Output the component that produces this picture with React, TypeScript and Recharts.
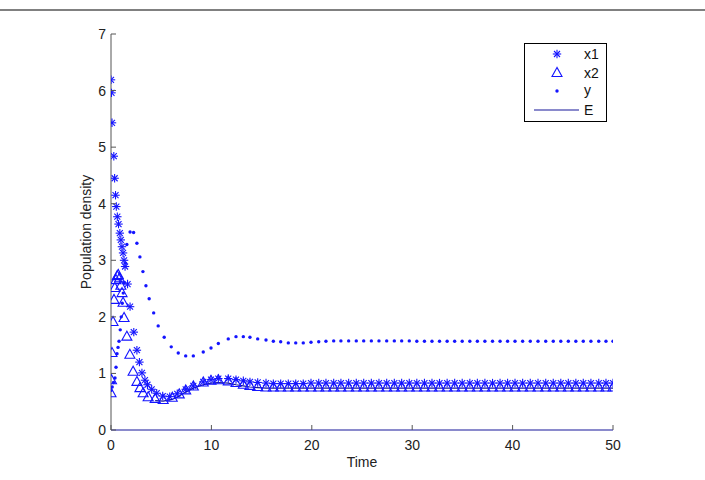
import React from 'react';
import { ComposedChart, Scatter, Line, XAxis, YAxis, Legend } from 'recharts';

const xTicks = [0, 10, 20, 30, 40, 50];
const yTicks = [0, 1, 2, 3, 4, 5, 6, 7];

// shared solver output times after the transient
const lateTime = [7.44, 8.2, 9.19, 9.96, 10.69, 11.68, 12.45, 13.18, 13.84, 14.61,
  15.44, 16.17, 16.9, 17.66, 18.4, 19.15, 19.92, 20.69, 21.41, 22.18,
  22.9, 23.67, 24.43, 25.17, 25.93, 26.69, 27.46, 28.22, 28.95, 29.71,
  30.46, 31.22, 31.97, 32.72, 33.48, 34.23, 34.98, 35.74, 36.49, 37.24,
  38.0, 38.75, 39.5, 40.24, 41.0, 41.76, 42.53, 43.3, 44.05, 44.8,
  45.55, 46.3, 47.04, 47.8, 48.58, 49.3, 50.0];

const x1EarlyTime = [0, 0.05, 0.1, 0.28, 0.36, 0.45, 0.53, 0.63, 0.75, 0.88, 0.98, 1.09, 1.2, 1.3, 1.4, 1.65, 1.9, 2.27, 2.58, 2.83, 3.08, 3.38, 3.63, 4.05, 4.55, 5.15, 5.85, 6.6];
const x1EarlyValues = [6.19, 5.96, 5.43, 4.84, 4.45, 4.15, 3.95, 3.77, 3.64, 3.48, 3.36, 3.24, 3.13, 3.0, 2.89, 2.58, 2.18, 1.73, 1.41, 1.2, 1.01, 0.88, 0.8, 0.72, 0.65, 0.6, 0.59, 0.64];
const x1LateValues = [0.72, 0.78, 0.85, 0.89, 0.91, 0.91, 0.89, 0.87, 0.85, 0.84,
  0.83, 0.82, 0.82, 0.82, 0.82, 0.82, 0.83, 0.83, 0.83, 0.83,
  0.83, 0.83, 0.83, 0.83, 0.83, 0.83, 0.83, 0.83, 0.83, 0.83,
  0.83, 0.83, 0.83, 0.83, 0.83, 0.83, 0.83, 0.83, 0.83, 0.83,
  0.83, 0.83, 0.83, 0.83, 0.83, 0.83, 0.83, 0.83, 0.83, 0.83,
  0.83, 0.83, 0.83, 0.83, 0.83, 0.83, 0.83];

const x2EarlyTime = [0, 0.05, 0.1, 0.2, 0.3, 0.38, 0.5, 0.62, 0.72, 0.85, 0.98, 1.1, 1.2, 1.3, 1.58, 1.88, 2.2, 2.58, 2.88, 3.2, 3.7, 4.4, 5.2, 6.1, 6.8];
const x2EarlyValues = [0.65, 0.88, 1.36, 1.91, 2.3, 2.51, 2.65, 2.72, 2.74, 2.68, 2.55, 2.42, 2.25, 1.98, 1.65, 1.33, 1.03, 0.85, 0.74, 0.65, 0.58, 0.55, 0.53, 0.57, 0.63];
const x2LateValues = [0.70, 0.77, 0.84, 0.87, 0.88, 0.86, 0.83, 0.80, 0.78, 0.76,
  0.75, 0.75, 0.75, 0.75, 0.75, 0.75, 0.75, 0.75, 0.75, 0.75,
  0.75, 0.75, 0.75, 0.75, 0.75, 0.75, 0.75, 0.75, 0.75, 0.75,
  0.75, 0.75, 0.75, 0.75, 0.75, 0.75, 0.75, 0.75, 0.75, 0.75,
  0.75, 0.75, 0.75, 0.75, 0.75, 0.75, 0.75, 0.75, 0.75, 0.75,
  0.75, 0.75, 0.75, 0.75, 0.75, 0.75, 0.75];

const yEarlyTime = [0, 0.12, 0.25, 0.4, 0.5, 0.6, 0.7, 0.8, 0.92, 1.02, 1.12, 1.22, 1.32, 1.44, 1.58, 1.9, 2.25, 2.58, 2.88, 3.18, 3.48, 3.8, 4.25, 4.7, 5.3, 6.0, 6.7];
const yEarlyValues = [0.7, 0.76, 0.84, 0.92, 1.11, 1.35, 1.46, 1.57, 1.77, 2.0, 2.24, 2.42, 2.6, 2.95, 3.28, 3.5, 3.49, 3.3, 3.06, 2.8, 2.55, 2.32, 2.07, 1.84, 1.64, 1.47, 1.36];
const yLateValues = [1.31, 1.31, 1.38, 1.45, 1.53, 1.61, 1.65, 1.65, 1.64, 1.61,
  1.59, 1.57, 1.56, 1.54, 1.54, 1.54, 1.55, 1.56, 1.57, 1.575,
  1.575, 1.575, 1.575, 1.575, 1.575, 1.575, 1.575, 1.575, 1.575, 1.575,
  1.57, 1.57, 1.57, 1.57, 1.57, 1.57, 1.57, 1.57, 1.57, 1.57,
  1.57, 1.57, 1.57, 1.57, 1.57, 1.57, 1.57, 1.57, 1.57, 1.57,
  1.57, 1.57, 1.57, 1.57, 1.57, 1.57, 1.57];

const eEarlyTime = [4.4, 5.2, 6.1, 6.8];
const eEarlyValues = [0.52, 0.51, 0.54, 0.6];
const eLateValues = [0.67, 0.74, 0.80, 0.83, 0.84, 0.83, 0.80, 0.78, 0.76, 0.75,
  0.74, 0.74, 0.74, 0.74, 0.74, 0.74, 0.74, 0.74, 0.74, 0.74,
  0.74, 0.74, 0.74, 0.74, 0.74, 0.74, 0.74, 0.74, 0.74, 0.74,
  0.74, 0.74, 0.74, 0.74, 0.74, 0.74, 0.74, 0.74, 0.74, 0.74,
  0.74, 0.74, 0.74, 0.74, 0.74, 0.74, 0.74, 0.74, 0.74, 0.74,
  0.74, 0.74, 0.74, 0.74, 0.74, 0.74, 0.74];

const seriesNames = ['x1', 'x2', 'y', 'E'];

const pair = (times: number[], values: number[]) => times.map((t, i) => ({ t, v: values[i] }));
const x1Data = [...pair(x1EarlyTime, x1EarlyValues), ...pair(lateTime, x1LateValues)];
const x2Data = [...pair(x2EarlyTime, x2EarlyValues), ...pair(lateTime, x2LateValues)];
const yData = [...pair(yEarlyTime, yEarlyValues), ...pair(lateTime, yLateValues)];
const eData = [...pair(eEarlyTime, eEarlyValues), ...pair(lateTime, eLateValues)];

const BLUE = '#1414ff';
const NAVY = '#16169a';
const FONT = '"Liberation Sans", Arial, Helvetica, sans-serif';

const Asterisk = (p: any) => {
  const { cx, cy } = p;
  if (cx == null || cy == null) return null;
  const r = 4.2, d = 3;
  return (
    <g stroke={BLUE} strokeWidth={1.1}>
      <line x1={cx - r} y1={cy} x2={cx + r} y2={cy} />
      <line x1={cx} y1={cy - r} x2={cx} y2={cy + r} />
      <line x1={cx - d} y1={cy - d} x2={cx + d} y2={cy + d} />
      <line x1={cx - d} y1={cy + d} x2={cx + d} y2={cy - d} />
    </g>
  );
};

const Triangle = (p: any) => {
  const { cx, cy } = p;
  if (cx == null || cy == null) return null;
  return (
    <polygon
      points={`${cx},${cy - 5.5} ${cx - 5},${cy + 3.5} ${cx + 5},${cy + 3.5}`}
      fill="none" stroke={BLUE} strokeWidth={1.1}
    />
  );
};

const Dot = (p: any) => {
  const { cx, cy } = p;
  if (cx == null || cy == null) return null;
  return <circle cx={cx} cy={cy} r={1.7} fill={BLUE} />;
};

const YTick = (p: any) => {
  const { x, y, payload } = p;
  return (
    <g>
      <line x1={x + 5} x2={x + 10} y1={y} y2={y} stroke="#555" strokeWidth={1} />
      <text x={x} y={y + 5} textAnchor="end" fontSize={14} fontFamily={FONT} fill="#222">{payload.value}</text>
    </g>
  );
};

const XTick = (p: any) => {
  const { x, y, payload } = p;
  return (
    <g>
      <line x1={x} x2={x} y1={y} y2={y - 5} stroke="#555" strokeWidth={1} />
      <text x={x} y={y + 20} textAnchor="middle" fontSize={14} fontFamily={FONT} fill="#222">{payload.value}</text>
    </g>
  );
};

const renderLegend = () => (
  <svg width={84} height={80} style={{ display: 'block' }}>
    <rect x={0.5} y={0.5} width={82} height={78} fill="#fff" stroke="#000" strokeWidth={1} />
    <Asterisk cx={33} cy={11} />
    <text x={60} y={16} fontSize={14} fontFamily={FONT} fill="#111">{seriesNames[0]}</text>
    <Triangle cx={33} cy={30} />
    <text x={60} y={35} fontSize={14} fontFamily={FONT} fill="#111">{seriesNames[1]}</text>
    <Dot cx={33} cy={48} />
    <text x={60} y={52} fontSize={14} fontFamily={FONT} fill="#111">{seriesNames[2]}</text>
    <line x1={10} x2={55} y1={67} y2={67} stroke={NAVY} strokeWidth={1.2} />
    <text x={60} y={72} fontSize={14} fontFamily={FONT} fill="#111">{seriesNames[3]}</text>
  </svg>
);

export default function App() {
  return (
    <div style={{ position: 'absolute', left: 0, top: 0, width: 705, height: 480, background: '#fff' }}>
      <div style={{ position: 'absolute', left: 0, top: 9, width: 705, height: 2, background: '#808080' }} />
      <ComposedChart
        width={705}
        height={480}
        margin={{ top: 34, right: 92, bottom: 0, left: 0 }}
        style={{ fontFamily: FONT }}
      >
        <XAxis
          type="number"
          dataKey="t"
          domain={[0, 50]}
          ticks={xTicks}
          height={50}
          tickSize={0}
          tickMargin={0}
          tickLine={false}
          axisLine={{ stroke: NAVY, strokeWidth: 1.2 }}
          tick={<XTick />}
          interval={0}
          allowDataOverflow
          label={{
            content: () => (
              <text x={362} y={467} textAnchor="middle" fontSize={14} fontFamily={FONT} fill="#222">Time</text>
            ),
          }}
        />
        <YAxis
          type="number"
          dataKey="v"
          domain={[0, 7]}
          ticks={yTicks}
          width={111}
          tickSize={0}
          tickMargin={5}
          tickLine={false}
          axisLine={{ stroke: '#555', strokeWidth: 1 }}
          tick={<YTick />}
          interval={0}
          allowDataOverflow
          label={{
            content: () => (
              <text x={91} y={232} transform="rotate(-90 91 232)" textAnchor="middle" fontSize={14} fontFamily={FONT} fill="#222">Population density</text>
            ),
          }}
        />
        <Legend
          layout="horizontal"
          verticalAlign="middle"
          align="center"
          width={84}
          height={80}
          wrapperStyle={{ left: 524, top: 43, width: 84, height: 80 }}
          content={renderLegend}
        />
        <Scatter name={seriesNames[0]} data={x1Data} dataKey="v" shape={<Asterisk />} isAnimationActive={false} />
        <Scatter name={seriesNames[1]} data={x2Data} dataKey="v" shape={<Triangle />} isAnimationActive={false} />
        <Scatter name={seriesNames[2]} data={yData} dataKey="v" shape={<Dot />} isAnimationActive={false} />
        <Line name={seriesNames[3]} data={eData} dataKey="v" type="linear" stroke={NAVY} strokeWidth={1.2} dot={false} activeDot={false} isAnimationActive={false} />
      </ComposedChart>
    </div>
  );
}
